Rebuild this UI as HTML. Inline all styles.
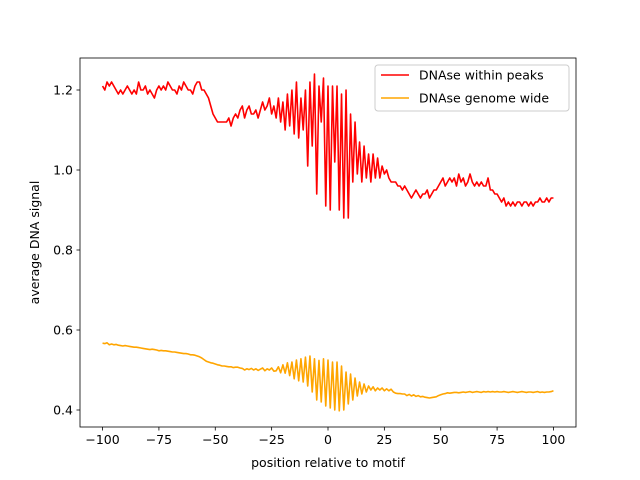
<!DOCTYPE html>
<html><head><meta charset="utf-8"><style>
body{margin:0;background:#fff}
svg{display:block;font-family:"DejaVu Sans","Liberation Sans",sans-serif}
</style></head><body>
<svg id="chart" width="640" height="480">
<rect width="640" height="480" fill="#fff"/>
<g id="plot"></g>
</svg>
<script>
const xTicks=[-100,-75,-50,-25,0,25,50,75,100];
const yTicks=[0.4,0.6,0.8,1.0,1.2];
const yTickLabels=["0.4","0.6","0.8","1.0","1.2"];
const peaks=[1.21,1.20,1.22,1.21,1.22,1.21,1.20,1.19,1.20,1.19,
1.20,1.21,1.20,1.19,1.20,1.19,1.22,1.20,1.20,1.21,
1.19,1.20,1.19,1.18,1.20,1.21,1.20,1.21,1.20,1.22,
1.21,1.20,1.20,1.19,1.21,1.20,1.22,1.21,1.20,1.20,
1.19,1.21,1.22,1.22,1.20,1.20,1.19,1.18,1.16,1.14,
1.13,1.12,1.12,1.12,1.12,1.12,1.13,1.11,1.13,1.14,
1.13,1.15,1.16,1.13,1.15,1.16,1.14,1.14,1.15,1.13,
1.15,1.17,1.15,1.16,1.18,1.14,1.16,1.13,1.18,1.12,
1.17,1.10,1.19,1.11,1.20,1.09,1.22,1.08,1.18,1.10,
1.20,1.01,1.22,1.06,1.24,0.94,1.21,1.12,1.23,0.91,
1.21,0.90,1.21,1.02,1.21,0.90,1.19,0.88,1.20,0.88,
1.14,0.97,1.12,0.99,1.07,0.97,1.06,0.98,1.04,0.97,
1.04,0.98,1.03,0.98,1.01,0.99,1.00,0.98,0.97,0.97,
0.97,0.96,0.96,0.95,0.96,0.95,0.94,0.93,0.94,0.95,
0.94,0.93,0.94,0.94,0.95,0.93,0.94,0.95,0.95,0.96,
0.97,0.98,0.96,0.97,0.98,0.97,0.98,0.96,0.99,0.97,
0.98,0.96,0.97,0.99,0.97,0.96,0.97,0.96,0.97,0.96,
0.96,0.98,0.95,0.95,0.94,0.94,0.93,0.92,0.93,0.91,
0.92,0.91,0.92,0.91,0.92,0.92,0.91,0.92,0.92,0.91,
0.92,0.91,0.92,0.92,0.93,0.92,0.92,0.93,0.92,0.93,0.93];
const genome=[.567,.566,.568,.563,.565,.563,.564,.562,.561,.560,
.561,.560,.559,.558,.557,.557,.556,.555,.554,.553,
.552,.551,.552,.551,.550,.548,.549,.548,.548,.547,
.546,.545,.545,.544,.543,.542,.541,.541,.540,.538,
.538,.537,.535,.533,.530,.526,.522,.520,.518,.517,
.515,.513,.512,.510,.510,.509,.508,.508,.506,.507,
.507,.505,.504,.500,.503,.501,.504,.500,.503,.499,
.502,.505,.498,.503,.500,.505,.497,.498,.508,.493,
.513,.492,.518,.486,.520,.478,.525,.473,.528,.470,
.532,.460,.535,.445,.528,.425,.524,.420,.528,.410,
.525,.405,.520,.400,.520,.398,.510,.400,.495,.415,
.490,.425,.480,.435,.470,.440,.465,.445,.460,.450,
.458,.448,.455,.450,.455,.448,.453,.448,.452,.445,
.442,.441,.441,.440,.440,.436,.439,.435,.438,.434,
.436,.433,.434,.432,.431,.430,.431,.432,.433,.436,
.438,.440,.441,.443,.442,.443,.444,.444,.443,.444,
.445,.444,.445,.446,.444,.445,.446,.445,.444,.446,
.445,.446,.445,.446,.445,.446,.445,.445,.446,.445,
.444,.445,.446,.445,.444,.445,.446,.445,.444,.445,
.445,.444,.445,.446,.444,.445,.444,.445,.445,.446,.448];
const L=80,R=576,T=58,B=427;
const xMin=-110,xMax=110,yMin=0.3575,yMax=1.28;
const FS='12.5px';
const sx=v=>L+(v-xMin)/(xMax-xMin)*(R-L);
const sy=v=>B-(v-yMin)/(yMax-yMin)*(B-T);
const NS="http://www.w3.org/2000/svg";
const g=document.getElementById('plot');
function mk(t,a,txt){const e=document.createElementNS(NS,t);for(const k in a)e.setAttribute(k,a[k]);if(txt!=null)e.textContent=txt;g.appendChild(e);return e;}
function series(vals,color,name){
  const pts=vals.map((v,i)=>sx(-100+i).toFixed(2)+","+sy(v).toFixed(2)).join(" ");
  const p=mk('polyline',{points:pts,fill:'none',stroke:color,'stroke-width':1.6,'stroke-linejoin':'round'});
  
  
}
series(peaks,'#ff0000','series-dnase-within-peaks');
series(genome,'#ffa500','series-dnase-genome-wide');
const fr=mk('rect',{x:L,y:T,width:R-L,height:B-T,fill:'none',stroke:'#000','stroke-width':0.8});


xTicks.forEach(v=>{
  const x=sx(v);
  mk('line',{x1:x,x2:x,y1:B,y2:B+3.5,stroke:'#000','stroke-width':0.8});
  const t=mk('text',{x:x,y:B+17,'text-anchor':'middle','font-size':FS,fill:'#000'},String(v).replace('-','\u2212'));
  
  
});
yTicks.forEach((v,i)=>{
  const y=sy(v);
  mk('line',{x1:L-3.5,x2:L,y1:y,y2:y,stroke:'#000','stroke-width':0.8});
  const t=mk('text',{x:L-7,y:y+4.5,'text-anchor':'end','font-size':FS,fill:'#000'},yTickLabels[i]);
  
  
});
const xt=mk('text',{x:(L+R)/2,y:467,'text-anchor':'middle','font-size':FS},'position relative to motif');


const yt=mk('text',{x:0,y:0,'text-anchor':'middle','font-size':FS,transform:'translate(39,'+((T+B)/2)+') rotate(-90)'},'average DNA signal');


const lg=mk('rect',{x:375,y:65,width:194,height:46,rx:3,fill:'#fff','fill-opacity':0.8,stroke:'#ccc','stroke-width':1});


[['DNAse within peaks','#ff0000',75],['DNAse genome wide','#ffa500',98]].forEach(([lab,c,y])=>{
  mk('line',{x1:381,x2:409,y1:y,y2:y,stroke:c,'stroke-width':1.6});
  const t=mk('text',{x:419,y:y+4.5,'font-size':FS},lab);
  
  
});
</script>
</body></html>
